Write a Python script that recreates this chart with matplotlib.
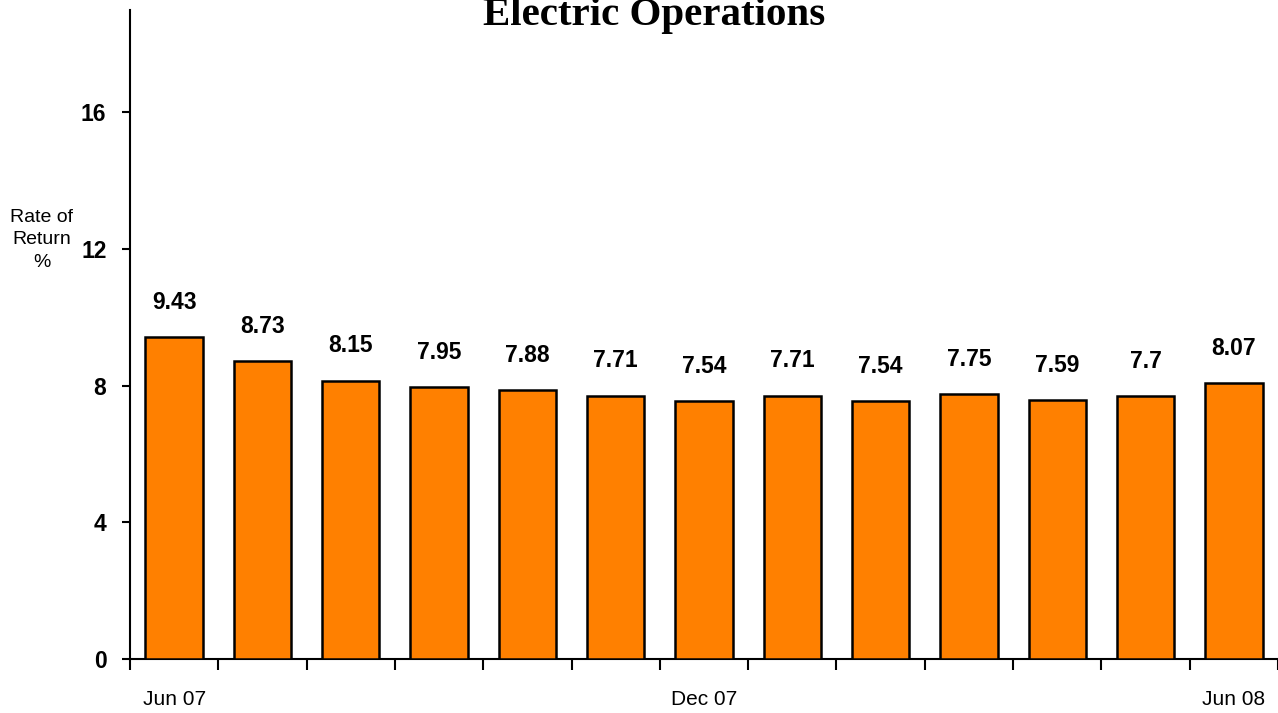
import matplotlib
matplotlib.use("Agg")
import matplotlib.pyplot as plt

periods = ["Jun 07", "Jul 07", "Aug 07", "Sep 07", "Oct 07", "Nov 07", "Dec 07",
           "Jan 08", "Feb 08", "Mar 08", "Apr 08", "May 08", "Jun 08"]
rates = [9.43, 8.73, 8.15, 7.95, 7.88, 7.71, 7.54, 7.71, 7.54, 7.75, 7.59, 7.7, 8.07]
value_labels = ["9.43", "8.73", "8.15", "7.95", "7.88", "7.71", "7.54", "7.71", "7.54",
                "7.75", "7.59", "7.7", "8.07"]
shown_periods = ["Jun 07", "Dec 07", "Jun 08"]
y_ticks = [0, 4, 8, 12, 16]

SANS = ["Liberation Sans", "DejaVu Sans"]

W, H = 1278, 713
fig = plt.figure(figsize=(W / 100, H / 100), dpi=100)
ax = fig.add_axes([130 / W, 54 / H, 1 - 130 / W, (659 - 10) / H])

x = list(range(len(rates)))
ax.bar(x, rates, width=0.65, color="#FF8000", edgecolor="black", linewidth=1.8, zorder=3)

for xi, v, lab in zip(x, rates, value_labels):
    ax.annotate(lab, (xi, v), xytext=(0, 25), textcoords="offset points",
                ha="center", va="center", fontsize=16.5, fontweight="bold",
                family=SANS)

ax.set_xlim(-0.5, len(rates) - 0.5)
ax.set_ylim(0, 19)

ax.set_yticks(y_ticks)
ax.set_yticklabels([str(t) for t in y_ticks], fontsize=16.5, fontweight="bold", family=SANS)
ax.tick_params(axis="y", direction="out", length=6, width=1.5, pad=11)

major_pos = [periods.index(p) for p in shown_periods]
ax.set_xticks(major_pos)
ax.set_xticklabels(shown_periods, fontsize=15, family=SANS)
ax.tick_params(axis="x", which="major", length=0, pad=22)
ax.set_xticks([i - 0.5 for i in range(len(rates) + 1)], minor=True)
ax.tick_params(axis="x", which="minor", direction="out", length=8, width=1.5)

for s in ["top", "right"]:
    ax.spines[s].set_visible(False)
for s in ["left", "bottom"]:
    ax.spines[s].set_linewidth(1.5)

fig.text(42 / W, 1 - 240 / H, "Rate of\nReturn\n%", ha="center", va="center",
         fontsize=14, family=SANS, linespacing=1.4, multialignment="center")

fig.text(654 / W, 1 - 25 / H, "Electric Operations", ha="center", va="baseline",
         fontsize=29.5, fontweight="bold", family=["Liberation Serif", "DejaVu Serif"])

fig.savefig("out.png", dpi=100)
